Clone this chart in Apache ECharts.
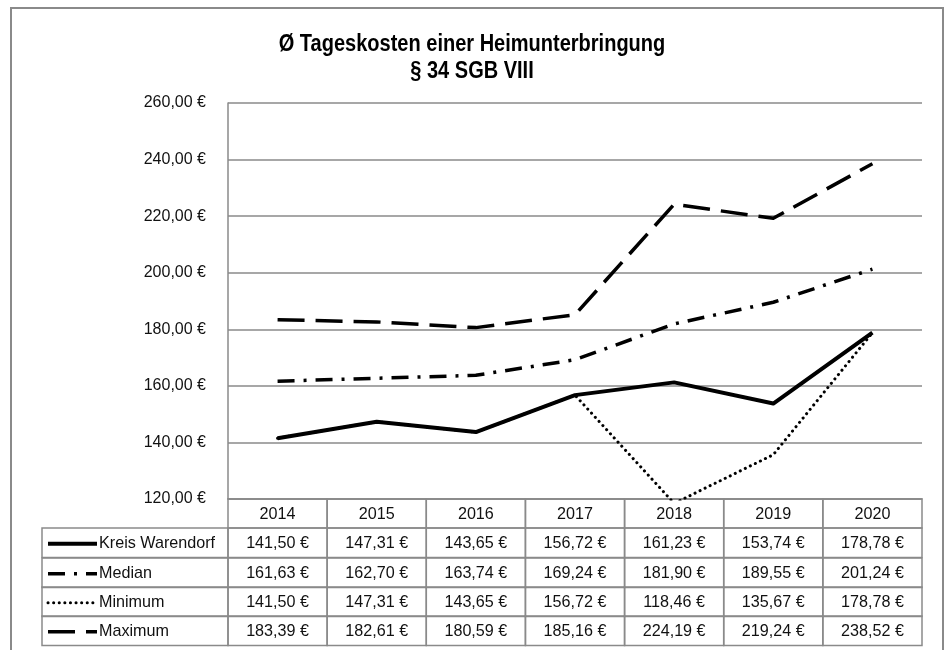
<!DOCTYPE html>
<html>
<head>
<meta charset="utf-8">
<script src="https://cdn.jsdelivr.net/npm/echarts@6/dist/echarts.min.js"></script>
<style>html,body{margin:0;padding:0;background:#fff;}#c{width:950px;height:650px;}</style>
</head>
<body>
<div id="c"></div>
<script>
var years = ['2014','2015','2016','2017','2018','2019','2020'];
var kreis   = [141.50, 147.31, 143.65, 156.72, 161.23, 153.74, 178.78];
var median  = [161.63, 162.70, 163.74, 169.24, 181.90, 189.55, 201.24];
var minimum = [141.50, 147.31, 143.65, 156.72, 118.46, 135.67, 178.78];
var maximum = [183.39, 182.61, 180.59, 185.16, 224.19, 219.24, 238.52];
var seriesNames = ['Kreis Warendorf', 'Median', 'Minimum', 'Maximum'];
var titleLines = ['Ø Tageskosten einer Heimunterbringung', '§ 34 SGB VIII'];
var yMin = 120, yMax = 260, yStep = 20;

var TFONT = "'Liberation Sans', Arial, sans-serif";
var GRAY = '#8a8a8a';
var SX = 0.87;
var CSX = 0.95;

function eur(v){ return v.toFixed(2).replace('.', ',') + ' €'; }

var styles = {
  'Kreis Warendorf': {color:'#000', width:4, type:'solid', cap:'butt'},
  'Median': {color:'#000', width:3.5, type:[17,9,3,9], cap:'butt'},
  'Minimum': {color:'#000', width:3, type:[0.1,5.5], cap:'round'},
  'Maximum': {color:'#000', width:3.5, type:[27,11], cap:'butt'}
};
var dataByName = {'Kreis Warendorf':kreis, 'Median':median, 'Minimum':minimum, 'Maximum':maximum};

function mkSeries(name, z){
  var s = styles[name];
  return {
    name:name, type:'line', data:dataByName[name], symbol:'none', z:z,
    animation:false,
    lineStyle:{color:s.color, width:s.width, type:s.type, cap:s.cap, join:'round'}
  };
}

var chart = echarts.init(document.getElementById('c'), null, {renderer:'canvas'});
var option = {
  backgroundColor:'#fff',
  animation:false,
  grid:{left:228, right:28, top:103, bottom:151, containLabel:false},
  xAxis:{type:'category', data:years, boundaryGap:true,
    axisLine:{show:true, lineStyle:{color:GRAY, width:1.5}},
    axisTick:{show:false}, axisLabel:{show:false}, splitLine:{show:false}},
  yAxis:{type:'value', min:yMin, max:yMax, interval:yStep,
    axisLine:{show:true, lineStyle:{color:GRAY, width:1.5}},
    axisTick:{show:false},
    axisLabel:{formatter:function(v){return eur(v);}, fontFamily:TFONT, fontSize:16, color:'#111', margin:22},
    splitLine:{show:true, lineStyle:{color:GRAY, width:1.5}}},
  series:[mkSeries('Maximum',2), mkSeries('Median',3), mkSeries('Minimum',4), mkSeries('Kreis Warendorf',5)]
};
chart.setOption(option);

var g = [];
g.push({type:'rect', shape:{x:11, y:8, width:932, height:660}, style:{fill:null, stroke:GRAY, lineWidth:2}, silent:true});
g.push({type:'text', x:472, y:45, scaleX:SX, style:{text:titleLines[0], font:'bold 23px '+TFONT, fill:'#000', textAlign:'center', textVerticalAlign:'middle'}});
g.push({type:'text', x:472, y:72, scaleX:SX, style:{text:titleLines[1], font:'bold 23px '+TFONT, fill:'#000', textAlign:'center', textVerticalAlign:'middle'}});

var c0 = chart.convertToPixel({xAxisIndex:0}, 0);
var c1 = chart.convertToPixel({xAxisIndex:0}, 1);
var bw = c1 - c0;
var yAxisBottom = chart.convertToPixel({yAxisIndex:0}, yMin);
var headerTop = yAxisBottom, headerBottom = 528;
var rowTops = [528, 558, 587, 616];
var rowH = 29.5;
var legLeft = 42;
var tableLeft = c0 - bw/2;
var cellStroke = {fill:null, stroke:GRAY, lineWidth:1.5};
var CFONT = '17px ' + TFONT;

years.forEach(function(yr, i){
  var cx = chart.convertToPixel({xAxisIndex:0}, i);
  g.push({type:'rect', shape:{x:cx-bw/2, y:headerTop, width:bw, height:headerBottom-headerTop}, style:cellStroke, silent:true});
  g.push({type:'text', x:cx, y:(headerTop+headerBottom)/2+1, scaleX:CSX, style:{text:yr, font:CFONT, fill:'#111', textAlign:'center', textVerticalAlign:'middle'}});
  seriesNames.forEach(function(nm, r){
    var top = rowTops[r];
    g.push({type:'rect', shape:{x:cx-bw/2, y:top, width:bw, height:rowH}, style:cellStroke, silent:true});
    g.push({type:'text', x:cx, y:top+rowH/2+1, scaleX:CSX, style:{text:eur(dataByName[nm][i]), font:CFONT, fill:'#111', textAlign:'center', textVerticalAlign:'middle'}});
  });
});
seriesNames.forEach(function(nm, r){
  var top = rowTops[r];
  var s = styles[nm];
  g.push({type:'rect', shape:{x:legLeft, y:top, width:tableLeft-legLeft, height:rowH}, style:cellStroke, silent:true});
  var ly = top + rowH/2 + 1;
  g.push({type:'line', shape:{x1:48, y1:ly, x2:97, y2:ly},
    style:{stroke:'#000', lineWidth:s.width, lineDash:(s.type==='solid'?null:s.type), lineCap:s.cap}, silent:true});
  g.push({type:'text', x:99, y:top+rowH/2+1, scaleX:CSX, style:{text:nm, font:CFONT, fill:'#111', textAlign:'left', textVerticalAlign:'middle'}});
});

chart.setOption({graphic:g});
</script>
</body>
</html>
